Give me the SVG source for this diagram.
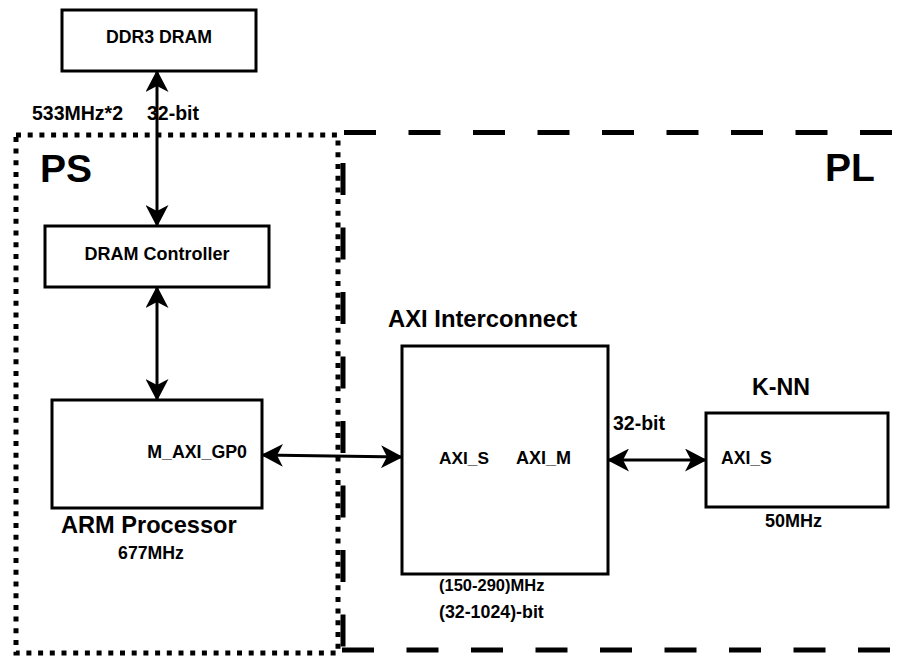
<svg xmlns="http://www.w3.org/2000/svg" width="901" height="658" viewBox="0 0 901 658">
  <style>
    text { font-family: "Liberation Sans", Arial, sans-serif; font-weight: bold; fill: #000; }
    .box { fill: #fff; stroke: #000; stroke-width: 3; }
    .link { stroke: #000; stroke-width: 3; fill: none; marker-start: url(#head); marker-end: url(#head); }
    .ps { fill: none; stroke: #000; stroke-width: 5; stroke-dasharray: 5 6.7; }
    .pl { fill: none; stroke: #000; stroke-width: 5; stroke-dasharray: 32 32.5; }
  </style>
  <defs>
    <marker id="head" viewBox="0 0 22 23" refX="21" refY="11.5" markerWidth="22" markerHeight="23" markerUnits="userSpaceOnUse" orient="auto-start-reverse">
      <path d="M22,11.5 L0,0 L6,11.5 L0,23 Z" fill="#000"/>
    </marker>
  </defs>

  <rect width="901" height="658" fill="#fff"/>

  <!-- region outlines -->
  <g id="region-pl">
    <line class="pl" x1="344" y1="132.5" x2="901" y2="132.5"/>
    <line class="pl" x1="343" y1="650" x2="343" y2="132.5" stroke-dashoffset="61"/>
    <line class="pl" x1="342" y1="650" x2="901" y2="650"/>
    <text x="825" y="181" font-size="39">PL</text>
  </g>
  <g id="region-ps">
    <rect class="ps" x="16" y="135" width="322" height="518"/>
    <text x="40" y="182" font-size="39">PS</text>
  </g>

  <!-- connectors -->
  <g id="connectors">
    <line class="link" x1="157" y1="71" x2="157" y2="226"/>
    <line class="link" x1="157" y1="287" x2="157" y2="400"/>
    <line class="link" x1="262" y1="455" x2="402" y2="457"/>
    <line class="link" x1="608" y1="460" x2="706" y2="460"/>
    <text x="32" y="120" font-size="19.5">533MHz*2</text>
    <text x="147" y="120" font-size="19.5">32-bit</text>
    <text x="613" y="430" font-size="19.5">32-bit</text>
  </g>

  <!-- nodes -->
  <g id="ddr3-dram">
    <rect class="box" x="62" y="10" width="194" height="61"/>
    <text x="159" y="43" font-size="17.7" text-anchor="middle">DDR3 DRAM</text>
  </g>

  <g id="dram-controller">
    <rect class="box" x="45" y="226" width="224" height="61"/>
    <text x="157" y="260" font-size="18" text-anchor="middle">DRAM Controller</text>
  </g>

  <g id="arm-processor">
    <rect class="box" x="52" y="400" width="210" height="108"/>
    <text x="247" y="458" font-size="17.8" text-anchor="end">M_AXI_GP0</text>
    <text x="61" y="533" font-size="23.6">ARM Processor</text>
    <text x="151" y="559" font-size="17.7" text-anchor="middle">677MHz</text>
  </g>

  <g id="axi-interconnect">
    <rect class="box" x="402" y="346" width="206" height="228"/>
    <text x="388" y="327" font-size="23.8">AXI Interconnect</text>
    <text x="439" y="464" font-size="17.3">AXI_S</text>
    <text x="516" y="464" font-size="18">AXI_M</text>
    <text x="439" y="591" font-size="16.5">(150-290)MHz</text>
    <text x="439" y="618" font-size="17.8">(32-1024)-bit</text>
  </g>

  <g id="knn">
    <rect class="box" x="706" y="413" width="182" height="94"/>
    <text x="752" y="395" font-size="23.2">K-NN</text>
    <text x="721" y="464" font-size="17.6">AXI_S</text>
    <text x="765" y="527" font-size="18">50MHz</text>
  </g>
</svg>
